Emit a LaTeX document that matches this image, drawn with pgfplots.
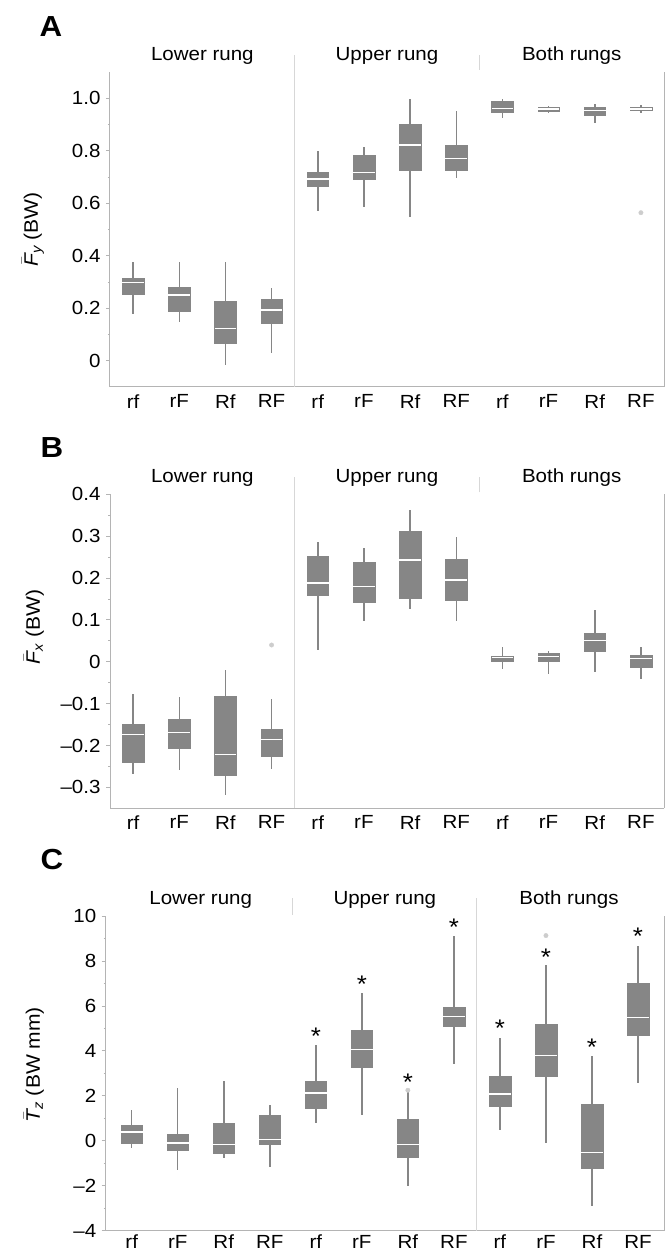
\documentclass[border=0pt]{standalone}
\usepackage{fontspec}
\setmainfont{Liberation Sans}[FakeStretch=1.08]
\usepackage{amsmath}
\usepackage{pgfplots}
\pgfplotsset{compat=1.18}
\usepgfplotslibrary{statistics}

\definecolor{boxgray}{RGB}{134,134,134}
\definecolor{axisgray}{RGB}{180,180,180}
\definecolor{sepgray}{RGB}{215,215,215}
\definecolor{outgray}{RGB}{205,205,205}

% one prepared box: position, lower whisker, Q1, median, Q3, upper whisker
\newcommand{\bx}[6]{\addplot[boxplot prepared={draw position=#1, lower whisker=#2,
  lower quartile=#3, median=#4, upper quartile=#5, upper whisker=#6}] coordinates {};}

\tikzset{grp/.style={anchor=base, font=\fontsize{19}{23}\selectfont}}

\pgfplotsset{
  panel/.style={
    scale only axis, width=554pt, height=315pt,
    xmin=0.5, xmax=12.5,
    axis x line*=bottom, axis y line*=left,
    axis line style={axisgray, line width=1pt},
    xtick={1,...,12}, xticklabels={rf,rF,Rf,RF,rf,rF,Rf,RF,rf,rF,Rf,RF},
    x tick style={draw=none},
    y tick style={axisgray, line width=0.8pt},
    tick align=outside, major tick length=4pt, minor tick length=2pt,
    minor y tick num=1,
    tick label style={font=\fontsize{19}{23}\selectfont},
    yticklabel style={xshift=-2pt},
    clip=false,
    boxplot/draw direction=y,
    boxplot/box extend=0.47, boxplot/whisker extend=0,
    boxplot/every box/.style={fill=boxgray, draw=boxgray, line width=0.4pt},
    boxplot/every median/.style={draw=white, line width=1.3pt},
    boxplot/every whisker/.style={draw=boxgray, line width=1.5pt},
    every axis y label/.style={rotate=90, anchor=south, inner sep=0pt,
      font=\fontsize{19.5}{23}\selectfont},
  },
  outl/.style={only marks, mark=*, mark size=2.2pt, color=outgray},
}

\begin{document}
\begin{tikzpicture}
\useasboundingbox (0,0) rectangle (667pt,1253pt);

\node[anchor=base west, font=\fontsize{29}{30}\selectfont\bfseries] at (36pt,1216pt) {A};
\node[anchor=base west, font=\fontsize{29}{30}\selectfont\bfseries] at (37pt,795pt) {B};
\node[anchor=base west, font=\fontsize{29}{30}\selectfont\bfseries] at (37pt,383pt) {C};

% ---------------- A
\begin{axis}[panel, at={(110pt,1181pt)}, anchor=north west,
  ymin=-0.1, ymax=1.1,
  ytick={0,0.2,0.4,0.6,0.8,1.0}, yticklabels={0,0.2,0.4,0.6,0.8,1.0},
  ylabel={$\bar{\text{\itshape F}}_{\text{\itshape y}}$ (BW)},
  ylabel style={at={(axis description cs:-0.119,0.5)}},
]
\bx{1}{0.178}{0.255}{0.297}{0.314}{0.375}
\bx{2}{0.149}{0.187}{0.250}{0.282}{0.375}
\bx{3}{-0.017}{0.066}{0.123}{0.227}{0.375}
\bx{4}{0.030}{0.142}{0.193}{0.234}{0.276}
\bx{5}{0.572}{0.666}{0.692}{0.720}{0.800}
\bx{6}{0.587}{0.691}{0.718}{0.784}{0.813}
\bx{7}{0.546}{0.727}{0.822}{0.902}{0.996}
\bx{8}{0.695}{0.727}{0.770}{0.820}{0.952}
\bx{9}{0.924}{0.947}{0.962}{0.987}{0.996}
\bx{10}{0.945}{0.952}{0.959}{0.966}{0.971}
\bx{11}{0.905}{0.934}{0.952}{0.966}{0.977}
\bx{12}{0.943}{0.953}{0.959}{0.967}{0.975}
\addplot[outl] coordinates {(12,0.564)};
\draw[axisgray, line width=1pt] (rel axis cs:1,0) -- (rel axis cs:1,1);
\draw[sepgray, line width=1pt] (axis cs:4.5,-0.1) -- ([yshift=17pt]axis cs:4.5,1.1);
\draw[sepgray, line width=1pt] ([yshift=2pt]axis cs:8.5,1.1) -- ([yshift=17pt]axis cs:8.5,1.1);
\node[grp] at ([yshift=11pt]axis cs:2.5,1.1) {Lower rung};
\node[grp] at ([yshift=11pt]axis cs:6.5,1.1) {Upper rung};
\node[grp] at ([yshift=11pt]axis cs:10.5,1.1) {Both rungs};
\end{axis}

% ---------------- B
\begin{axis}[panel, at={(110pt,758.7pt)}, anchor=north west, height=314pt,
  ymin=-0.35, ymax=0.4,
  ytick={-0.3,-0.2,-0.1,0,0.1,0.2,0.3,0.4},
  yticklabels={–0.3,–0.2,–0.1,0,0.1,0.2,0.3,0.4},
  ylabel={$\bar{\text{\itshape F}}_{\text{\itshape x}}$ (BW)},
  ylabel style={at={(axis description cs:-0.119,0.577)}},
]
\bx{1}{-0.267}{-0.239}{-0.173}{-0.148}{-0.076}
\bx{2}{-0.258}{-0.206}{-0.169}{-0.138}{-0.085}
\bx{3}{-0.319}{-0.271}{-0.221}{-0.082}{-0.020}
\bx{4}{-0.255}{-0.226}{-0.185}{-0.160}{-0.088}
\bx{5}{0.028}{0.159}{0.188}{0.253}{0.286}
\bx{6}{0.098}{0.143}{0.179}{0.238}{0.271}
\bx{7}{0.125}{0.153}{0.243}{0.311}{0.362}
\bx{8}{0.098}{0.148}{0.195}{0.246}{0.297}
\bx{9}{-0.017}{0.001}{0.010}{0.014}{0.036}
\bx{10}{-0.030}{0.001}{0.012}{0.020}{0.026}
\bx{11}{-0.024}{0.026}{0.050}{0.068}{0.124}
\bx{12}{-0.040}{-0.012}{0.008}{0.015}{0.036}
\addplot[outl] coordinates {(4,0.040)};
\draw[axisgray, line width=1pt] (rel axis cs:1,0) -- (rel axis cs:1,1);
\draw[sepgray, line width=1pt] (axis cs:4.5,-0.35) -- ([yshift=17pt]axis cs:4.5,0.4);
\draw[sepgray, line width=1pt] ([yshift=2pt]axis cs:8.5,0.4) -- ([yshift=17pt]axis cs:8.5,0.4);
\node[grp] at ([yshift=12pt]axis cs:2.5,0.4) {Lower rung};
\node[grp] at ([yshift=12pt]axis cs:6.5,0.4) {Upper rung};
\node[grp] at ([yshift=12pt]axis cs:10.5,0.4) {Both rungs};
\end{axis}

% ---------------- C
\begin{axis}[panel, at={(105.7pt,337pt)}, anchor=north west,
  width=558.3pt, height=314.7pt, xmin=0.435, xmax=12.565,
  ymin=-4, ymax=10,
  ytick={-4,-2,0,2,4,6,8,10}, yticklabels={–4,–2,0,2,4,6,8,10},
  xticklabel style={yshift=3pt},
  ylabel={$\bar{\text{\itshape T}}_{\text{\itshape z}}$ (BW mm)},
  ylabel style={at={(axis description cs:-0.1105,0.527)}},
]
\bx{1}{-0.31}{-0.09}{0.39}{0.71}{1.35}
\bx{2}{-1.29}{-0.40}{-0.10}{0.31}{2.35}
\bx{3}{-0.77}{-0.55}{-0.18}{0.76}{2.65}
\bx{4}{-1.17}{-0.13}{0.07}{1.16}{1.61}
\bx{5}{0.79}{1.47}{2.13}{2.65}{4.25}
\bx{6}{1.13}{3.26}{4.07}{4.91}{6.56}
\bx{7}{-1.99}{-0.73}{-0.18}{0.94}{2.15}
\bx{8}{3.41}{5.10}{5.52}{5.95}{9.12}
\bx{9}{0.46}{1.53}{2.08}{2.88}{4.58}
\bx{10}{-0.10}{2.86}{3.79}{5.20}{7.81}
\bx{11}{-2.88}{-1.22}{-0.52}{1.61}{3.79}
\bx{12}{2.59}{4.68}{5.49}{7.00}{8.67}
\addplot[outl] coordinates {(7,2.25) (10,9.13)};
\addplot[only marks, mark=none, nodes near coords={*},
  every node near coord/.style={anchor=base, yshift=-13.3pt, inner sep=0pt,
    font=\fontsize{24}{26}\selectfont}]
  coordinates {(5,4.89) (6,7.18) (7,2.81) (8,9.71) (9,5.22) (10,8.37) (11,4.40) (12,9.31)};
\draw[axisgray, line width=1pt] (rel axis cs:1,0) -- (rel axis cs:1,1);
\draw[sepgray, line width=1pt] ([yshift=1pt]axis cs:4.5,10) -- ([yshift=18pt]axis cs:4.5,10);
\draw[sepgray, line width=1pt] (axis cs:8.5,-4) -- ([yshift=18pt]axis cs:8.5,10);
\node[grp] at ([yshift=11pt]axis cs:2.5,10) {Lower rung};
\node[grp] at ([yshift=11pt]axis cs:6.5,10) {Upper rung};
\node[grp] at ([yshift=11pt]axis cs:10.5,10) {Both rungs};
\end{axis}
\end{tikzpicture}
\end{document}
